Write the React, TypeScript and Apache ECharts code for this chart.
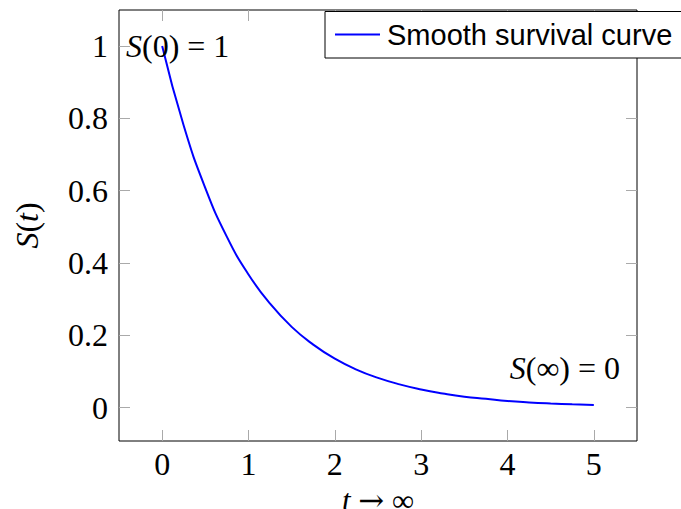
import React, { useEffect, useRef } from 'react';
import * as echarts from 'echarts';

const tValues = [0, 0.25, 0.5, 0.75, 1, 1.25, 1.5, 1.75, 2, 2.25, 2.5, 2.75, 3, 3.25, 3.5, 3.75, 4, 4.25, 4.5, 4.75, 5];
const survival = [1, 0.779, 0.607, 0.472, 0.368, 0.287, 0.223, 0.174, 0.135, 0.105, 0.082, 0.064, 0.05, 0.039, 0.03, 0.024, 0.018, 0.014, 0.011, 0.0087, 0.0067];
const xTicks = [0, 1, 2, 3, 4, 5];
const yTicks = [0, 0.2, 0.4, 0.6, 0.8, 1];
const seriesName = 'Smooth survival curve';
const xRange = [-0.5, 5.5];
const yRange = [-0.0926, 1.0993];

const SERIF = "'Liberation Serif', 'DejaVu Serif', serif";
const SANS = "'Liberation Sans', Arial, sans-serif";
const FS = 32;
const NFS = 31;

export default function App() {
  const ref = useRef<HTMLDivElement>(null);
  useEffect(() => {
    const chart = echarts.init(ref.current!, null, { renderer: 'svg' });
    const tick = { inside: true, length: 11, lineStyle: { color: '#aaa', width: 1 } };
    const hiddenLine = { show: false, onZero: false };
    const rich = {
      i: { fontStyle: 'italic', fontFamily: SERIF, fontSize: FS, color: '#000' },
      n: { fontFamily: SERIF, fontSize: FS, color: '#000' },
      a: { fontFamily: "'DejaVu Serif', serif", fontSize: FS, color: '#000' },
    };
    const richName = {
      i: { ...rich.i, fontSize: NFS, lineHeight: 18 },
      n: { ...rich.n, fontSize: NFS, lineHeight: 18 },
      a: { ...rich.a, fontSize: NFS, lineHeight: 18 },
    };
    chart.setOption({
      animation: false,
      grid: {
        left: 119, right: 44, top: 10, bottom: 68, show: true, borderColor: '#000', borderWidth: 1,
        backgroundColor: 'transparent', containLabel: false, outerBoundsMode: 'none',
      },
      legend: {
        left: 335, top: 20, padding: 0, itemWidth: 45, itemHeight: 2, icon: 'rect',
        textStyle: { fontFamily: SANS, fontSize: 29, color: '#000', padding: [0, 0, 0, 2] },
        data: [{ name: seriesName, icon: 'rect' }],
        z: 10,
      },
      xAxis: [
        {
          type: 'value', min: xRange[0], max: xRange[1], position: 'bottom',
          axisLine: hiddenLine, splitLine: { show: false },
          axisTick: { ...tick, customValues: xTicks },
          axisLabel: { customValues: xTicks, fontFamily: SERIF, fontSize: FS, color: '#000', margin: 7 },
          name: '{i|t}{n| }{a|\u2192}{n| \u221e}', nameLocation: 'middle', nameGap: 40,
          nameTextStyle: { fontFamily: SERIF, fontSize: NFS, lineHeight: 18, color: '#000', rich: richName },
        },
        {
          type: 'value', min: xRange[0], max: xRange[1], position: 'top',
          axisLine: hiddenLine, splitLine: { show: false },
          axisTick: { ...tick, customValues: xTicks },
          axisLabel: { show: false },
        },
      ],
      yAxis: [
        {
          type: 'value', min: yRange[0], max: yRange[1], position: 'left',
          axisLine: hiddenLine, splitLine: { show: false },
          axisTick: { ...tick, customValues: yTicks },
          axisLabel: {
            customValues: yTicks, fontFamily: SERIF, fontSize: FS, color: '#000', margin: 11,
            formatter: (v: number) => (v === 0 || v === 1 ? String(v) : v.toFixed(1)),
          },
          name: '{i|S}{n|(}{i|t}{n|)}', nameLocation: 'middle', nameGap: 76, nameRotate: 90,
          nameTextStyle: { fontFamily: SERIF, fontSize: FS, color: '#000', rich },
        },
        {
          type: 'value', min: yRange[0], max: yRange[1], position: 'right',
          axisLine: hiddenLine, splitLine: { show: false },
          axisTick: { ...tick, customValues: yTicks },
          axisLabel: { show: false },
        },
      ],
      graphic: [
        {
          type: 'rect', z: 5, shape: { x: 325, y: 11.5, width: 420, height: 46.5 },
          style: { fill: '#fff', stroke: '#000', lineWidth: 1 },
        },
        {
          type: 'text', z: 6, x: 126, y: 46,
          style: { text: '{i|S}{n|(0) = 1}', rich, fontFamily: SERIF, fontSize: FS, fill: '#000', verticalAlign: 'middle', align: 'left' },
        },
        {
          type: 'text', z: 6, x: 620, y: 368,
          style: { text: '{i|S}{n|(\u221e) = 0}', rich, fontFamily: SERIF, fontSize: FS, fill: '#000', verticalAlign: 'middle', align: 'right' },
        },
      ],
      series: [
        {
          name: seriesName, type: 'line', smooth: true, symbol: 'none',
          xAxisIndex: 0, yAxisIndex: 0,
          lineStyle: { color: '#0000ff', width: 2 }, itemStyle: { color: '#0000ff' },
          data: tValues.map((t, i) => [t, survival[i]]),
          z: 3,
        },
      ],
    });
    return () => chart.dispose();
  }, []);
  return <div ref={ref} style={{ position: 'absolute', left: 0, top: 0, width: 681, height: 509 }} />;
}
